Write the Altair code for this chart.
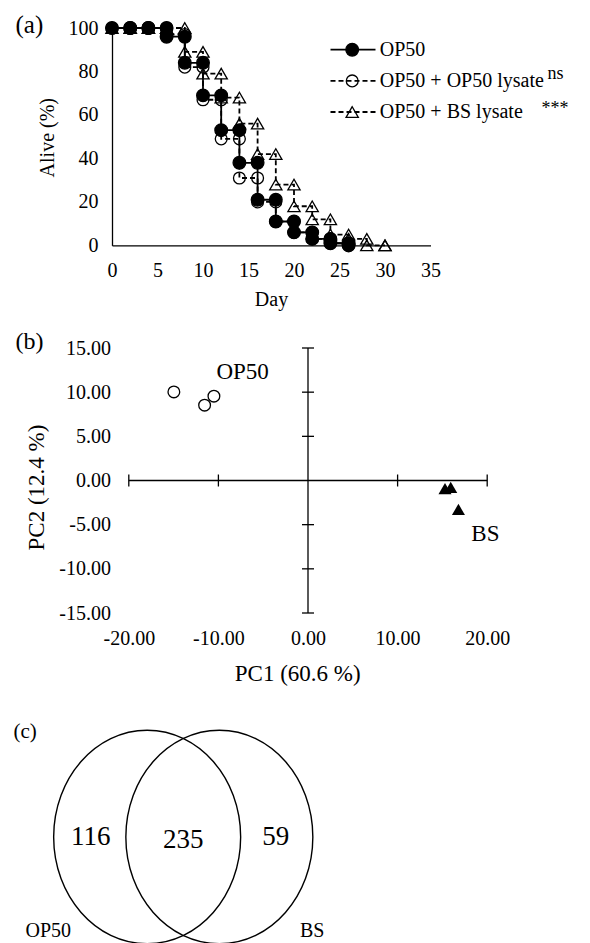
import altair as alt
import pandas as pd

FONT = "Liberation Serif"

# ---------------- (a) survival curves ----------------
SERIES = ["OP50", "OP50 + OP50 lysate", "OP50 + BS lysate"]
SIGNIF = ["", "ns", "***"]
DAYS = [0, 2, 4, 6, 8, 10, 12, 14, 16, 18, 20, 22, 24, 26, 28, 30]
ALIVE_OP50 = [100, 100, 100, 96, 84, 69, 53, 38, 21, 11, 6, 3, 1, 0]
ALIVE_OP50_LYSATE = [100, 100, 100, 97, 82, 67, 49, 31, 20, 11, 6, 3, 1, 0]
ALIVE_BS_LYSATE = [100, 100, 100, 100, 89, 79, 68, 56, 42, 28, 18, 12, 5, 3, 0, 0]
DAY_TICKS = [0, 5, 10, 15, 20, 25, 30, 35]
ALIVE_TICKS = [0, 20, 40, 60, 80, 100]

# ---------------- (b) PCA ----------------
PCA_GROUP = ["OP50", "OP50", "OP50", "BS", "BS", "BS"]
PC1 = [-14.97, -11.54, -10.50, 15.29, 15.93, 16.79]
PC2 = [10.03, 8.53, 9.55, -0.91, -0.79, -3.28]
PCA_LABELS = ["OP50", "BS"]
PCA_LABEL_PC1 = [-7.3, 19.8]
PCA_LABEL_PC2 = [12.3, -6.0]
PC1_TICKS = [-20, -10, 0, 10, 20]
PC2_TICKS = [-15, -10, -5, 0, 5, 10, 15]

# ---------------- (c) Venn ----------------
VENN_SETS = ["OP50", "BS"]
VENN_CENTER_X = [-0.386, 0.386]
VENN_CENTER_Y = [0.0, 0.0]
VENN_COUNTS = ["116", "235", "59"]
VENN_COUNT_X = [-0.99, 0.0, 0.99]
VENN_COUNT_Y = [0.0, -0.03, 0.0]
VENN_NAME_X = [-1.444, 1.379]
VENN_NAME_Y = [-1.0, -1.0]

PANEL_LABELS = ["(a)", "(b)", "(c)"]

# ---------------- layout (pixels) ----------------
A_W, A_H = 318.5, 217.4
B_PX = 8.96
B_XMIN = -20 - 16.8 / B_PX
B_W, B_H = (20 - B_XMIN) * B_PX, 265
C_R = 93.5
C_W, C_H = 318.5, 220
C_XMIN = -71.25 / C_R
C_XMAX = C_XMIN + C_W / C_R
C_YMAX = 122 / C_R
C_YMIN = C_YMAX - C_H / C_R
GAP = 102

STYLE = {
    "OP50": dict(dash=[1, 0], shape="circle", filled=True, size=160),
    "OP50 + OP50 lysate": dict(dash=[5, 3], shape="circle", filled=False, size=140),
    "OP50 + BS lysate": dict(dash=[5, 3], shape="triangle-up", filled=False, size=150),
}

# Kaplan-Meier style step table built from the arrays
rows = []
for s, alive in zip(SERIES, [ALIVE_OP50, ALIVE_OP50_LYSATE, ALIVE_BS_LYSATE]):
    days = DAYS[: len(alive)]
    rows.append(dict(series=s, day=days[0], alive=alive[0], order=0))
    for i in range(1, len(days)):
        rows.append(dict(series=s, day=days[i], alive=alive[i - 1], order=2 * i - 1))
        rows.append(dict(series=s, day=days[i], alive=alive[i], order=2 * i))
km = pd.DataFrame(rows)

xA = alt.X(
    "day:Q",
    scale=alt.Scale(domain=[0, 35], nice=False, zero=False),
    axis=alt.Axis(
        values=DAY_TICKS, title="Day", ticks=False, grid=False, labelPadding=15,
        labelFlush=False, titleX=159, titleY=54.5, titleBaseline="middle",
        titleAlign="center",
    ),
)
yA = alt.Y(
    "alive:Q",
    scale=alt.Scale(domain=[0, 100], nice=False),
    axis=alt.Axis(
        values=ALIVE_TICKS, title="Alive (%)", ticks=False, grid=False,
        labelPadding=14, titleX=-64.2, titleY=109.2, titleBaseline="middle",
        titleAlign="center",
    ),
)


def marker(chart, st):
    if st["filled"]:
        return chart.mark_point(
            shape=st["shape"], filled=True, fill="black", stroke="black",
            strokeWidth=1.3, size=st["size"], opacity=1,
        )
    return chart.mark_point(
        shape=st["shape"], filled=False, stroke="black",
        strokeWidth=1.3, size=st["size"], opacity=1,
    )


layers_a = []
for s in reversed(SERIES):
    st = STYLE[s]
    base = alt.Chart(km).transform_filter(alt.datum.series == s)
    layers_a.append(
        base.mark_line(color="black", strokeWidth=1.8, strokeDash=st["dash"]).encode(
            x=xA, y=yA, order="order:Q"
        )
    )
    layers_a.append(marker(base, st).encode(x=xA, y=yA))

# legend drawn beside the curves
LEG_X0, LEG_X1, LEG_MX, LEG_TX = 218.5, 263.5, 240.2, 267.8
LEG_Y = [21.7, 52.9, 84.0]
SIG_X = {"ns": 435.5, "***": 429.5}
SIG_DY = {"ns": -7, "***": -3}
for i, s in enumerate(SERIES):
    st = STYLE[s]
    ld = alt.Chart(pd.DataFrame({"series": [s], "sig": [SIGNIF[i]]}))
    layers_a.append(
        ld.mark_rule(color="black", strokeWidth=1.8, strokeDash=st["dash"]).encode(
            x=alt.value(LEG_X0), x2=alt.value(LEG_X1), y=alt.value(LEG_Y[i])
        )
    )
    layers_a.append(
        marker(ld, st).encode(x=alt.value(LEG_MX), y=alt.value(LEG_Y[i]))
    )
    layers_a.append(
        ld.mark_text(align="left", baseline="middle", fontSize=20).encode(
            x=alt.value(LEG_TX), y=alt.value(LEG_Y[i]), text="series:N"
        )
    )
    if SIGNIF[i]:
        layers_a.append(
            ld.mark_text(align="left", baseline="middle", fontSize=18).encode(
                x=alt.value(SIG_X[SIGNIF[i]]),
                y=alt.value(LEG_Y[i] + SIG_DY[SIGNIF[i]]),
                text="sig:N",
            )
        )

layers_a.append(
    alt.Chart(pd.DataFrame({"label": [PANEL_LABELS[0]]}))
    .mark_text(align="left", baseline="middle", fontSize=25)
    .encode(x=alt.value(-96.5), y=alt.value(-2.8), text="label:N")
)
panel_a = alt.layer(*layers_a).properties(width=A_W, height=A_H)

# ---------------- panel (b) ----------------
pca = pd.DataFrame({"group": PCA_GROUP, "pc1": PC1, "pc2": PC2})
pca_lab = pd.DataFrame({"label": PCA_LABELS, "pc1": PCA_LABEL_PC1, "pc2": PCA_LABEL_PC2})
hline = pd.DataFrame({"pc1": [PC1_TICKS[0]], "pc1_end": [PC1_TICKS[-1]], "pc2": [0]})
vline = pd.DataFrame({"pc1": [0], "pc2": [PC2_TICKS[0]], "pc2_end": [PC2_TICKS[-1]]})
xt = pd.DataFrame({"pc1": [v for v in PC1_TICKS if v != 0], "pc2": 0})
yt = pd.DataFrame({"pc2": [v for v in PC2_TICKS if v != 0], "pc1": 0})

lab_expr = "replace(format(datum.value, '.2f'), '\u2212', '-')"
xB = alt.X(
    "pc1:Q",
    scale=alt.Scale(domain=[B_XMIN, 20], nice=False, zero=False),
    axis=alt.Axis(
        values=PC1_TICKS, labelExpr=lab_expr, domain=False, ticks=False, grid=False,
        labelPadding=15, labelFlush=False, title="PC1 (60.6 %)", titleFontSize=23,
        titleX=185.2, titleY=60.6, titleBaseline="middle", titleAlign="center",
    ),
)
yB = alt.Y(
    "pc2:Q",
    scale=alt.Scale(domain=[-15, 15], nice=False, zero=False),
    axis=alt.Axis(
        values=PC2_TICKS, labelExpr=lab_expr, domain=False, ticks=False, grid=False,
        labelPadding=1.5, title="PC2 (12.4 %)", titleFontSize=23,
        titleX=-75.7, titleY=139, titleBaseline="middle", titleAlign="center",
    ),
)

b_h = alt.Chart(hline).mark_rule(color="black", strokeWidth=1.3).encode(
    x=xB, x2="pc1_end:Q", y=yB
)
b_v = alt.Chart(vline).mark_rule(color="black", strokeWidth=1.3).encode(
    x=xB, y=yB, y2="pc2_end:Q"
)
b_xt = alt.Chart(xt).mark_tick(
    orient="vertical", size=12, thickness=1.3, color="black", opacity=1
).encode(x=xB, y=yB)
b_yt = alt.Chart(yt).mark_tick(
    orient="horizontal", size=12, thickness=1.3, color="black", opacity=1
).encode(x=xB, y=yB)
b_op = alt.Chart(pca).transform_filter(alt.datum.group == "OP50").mark_point(
    shape="circle", filled=False, stroke="black", strokeWidth=1.3, size=137, opacity=1
).encode(x=xB, y=yB)
b_bs = alt.Chart(pca).transform_filter(alt.datum.group == "BS").mark_point(
    shape="triangle-up", filled=True, color="black", size=170, opacity=1
).encode(x=xB, y=yB)
b_lab = alt.Chart(pca_lab).mark_text(fontSize=23, baseline="middle").encode(
    x=xB, y=yB, text="label:N"
)
b_pl = (
    alt.Chart(pd.DataFrame({"label": [PANEL_LABELS[1]]}))
    .mark_text(align="left", baseline="middle", fontSize=24)
    .encode(x=alt.value(-96.5), y=alt.value(-5.7), text="label:N")
)
panel_b = alt.layer(b_h, b_v, b_xt, b_yt, b_op, b_bs, b_lab, b_pl).properties(
    width=B_W, height=B_H
)

# ---------------- panel (c) ----------------
k = 0.5523
e = 106.7 / 93.5
ELLIPSE = (
    f"M1,0 C1,{k*e:.4f} {k:.4f},{e:.4f} 0,{e:.4f} "
    f"C{-k:.4f},{e:.4f} -1,{k*e:.4f} -1,0 "
    f"C-1,{-k*e:.4f} {-k:.4f},{-e:.4f} 0,{-e:.4f} "
    f"C{k:.4f},{-e:.4f} 1,{-k*e:.4f} 1,0 Z"
)
xC = alt.X("vx:Q", scale=alt.Scale(domain=[C_XMIN, C_XMAX], nice=False, zero=False), axis=None)
yC = alt.Y("vy:Q", scale=alt.Scale(domain=[C_YMIN, C_YMAX], nice=False, zero=False), axis=None)

venn = pd.DataFrame({"set": VENN_SETS, "vx": VENN_CENTER_X, "vy": VENN_CENTER_Y})
counts = pd.DataFrame({"label": VENN_COUNTS, "vx": VENN_COUNT_X, "vy": VENN_COUNT_Y})
names = pd.DataFrame({"label": VENN_SETS, "vx": VENN_NAME_X, "vy": VENN_NAME_Y})

c_circ = alt.Chart(venn).mark_point(
    shape=ELLIPSE, filled=False, stroke="black", strokeWidth=1.4,
    size=(2 * C_R) ** 2, opacity=1,
).encode(x=xC, y=yC)
c_cnt = alt.Chart(counts).mark_text(fontSize=27, baseline="middle").encode(
    x=xC, y=yC, text="label:N"
)
c_nm = alt.Chart(names).mark_text(fontSize=20, baseline="middle").encode(
    x=xC, y=yC, text="label:N"
)
c_pl = (
    alt.Chart(pd.DataFrame({"label": [PANEL_LABELS[2]]}))
    .mark_text(align="left", baseline="middle", fontSize=21)
    .encode(x=alt.value(-98.5), y=alt.value(17), text="label:N")
)
panel_c = alt.layer(c_circ, c_cnt, c_nm, c_pl).properties(width=C_W, height=C_H)

chart = (
    alt.vconcat(panel_a, panel_b, panel_c, spacing=GAP, bounds="flush")
    .properties(padding={"left": 5, "top": 5, "right": 5, "bottom": 0})
    .configure_view(stroke=None)
    .configure_axis(
        labelFont=FONT, titleFont=FONT, labelFontSize=20, titleFontSize=20,
        labelColor="black", titleColor="black", titleFontWeight="normal",
        domainColor="black", domainWidth=1.3,
    )
    .configure_text(font=FONT, color="black")
)

chart.save("out.html", embed_options={"renderer": "svg", "actions": False})
